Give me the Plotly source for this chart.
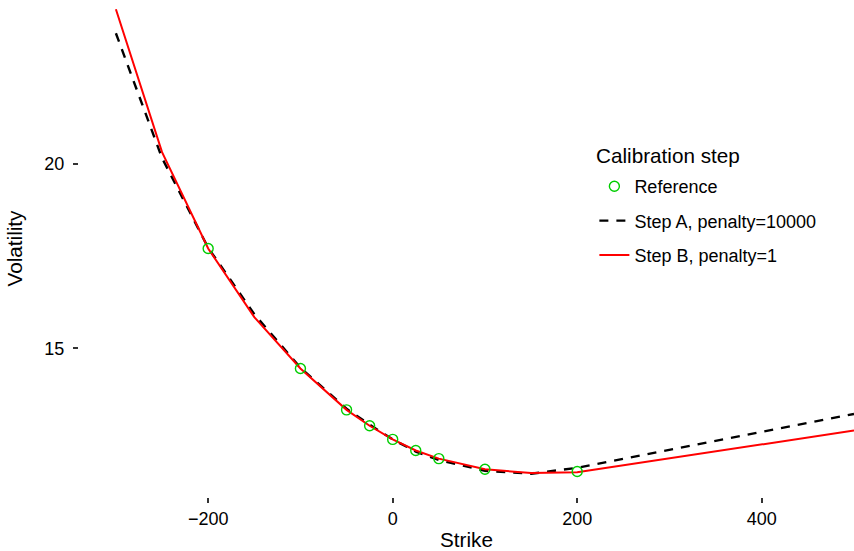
import plotly.graph_objects as go

# Reference points
ref_strike = [-200, -100, -50, -25, 0, 25, 50, 100, 200]
ref_vol = [17.70, 14.45, 13.33, 12.90, 12.53, 12.23, 12.01, 11.72, 11.66]

# Calibrated curves
curve_strike = [-300, -250, -200, -150, -100, -50, -25, 0, 25, 50, 100, 150, 200, 300, 400, 500]
step_a_vol = [23.53, 20.15, 17.72, 15.92, 14.47, 13.36, 12.93, 12.53, 12.20, 11.97, 11.68, 11.60, 11.76, 12.25, 12.73, 13.22]
step_b_vol = [24.18, 20.31, 17.70, 15.84, 14.45, 13.33, 12.90, 12.53, 12.23, 12.01, 11.72, 11.62, 11.64, 12.02, 12.40, 12.77]

legend_title = "Calibration step"

FONT = "Liberation Sans, Helvetica, Arial, sans-serif"

fig = go.Figure()
fig.add_trace(go.Scatter(
    x=curve_strike, y=step_a_vol, mode="lines", name="Step A, penalty=10000",
    line=dict(color="black", width=2.4, dash="9px,8px"), legendgroup="a", legendrank=2,
))
fig.add_trace(go.Scatter(
    x=curve_strike, y=step_b_vol, mode="lines", name="Step B, penalty=1",
    line=dict(color="#FF0000", width=2), legendgroup="b", legendrank=3,
))
fig.add_trace(go.Scatter(
    x=ref_strike, y=ref_vol, mode="markers", name="Reference",
    marker=dict(symbol="circle-open", size=10, color="#00CD00", line=dict(width=1.4, color="#00CD00")),
    legendgroup="r", legendrank=1,
))

fig.add_annotation(
    text=legend_title, xref="paper", yref="paper",
    x=(594 - 79) / 775, y=(497 - 155) / 497, xanchor="left", yanchor="middle",
    showarrow=False, font=dict(size=20.7, color="black"),
)

fig.update_layout(
    width=854, height=551,
    margin=dict(l=79, r=0, t=0, b=54),
    paper_bgcolor="white", plot_bgcolor="white",
    font=dict(family=FONT, size=18, color="black"),
    showlegend=True,
    legend=dict(
        x=0.665, y=0.662, xanchor="left", yanchor="top",
        font=dict(size=18, color="black"),
        bgcolor="rgba(0,0,0,0)",
        traceorder="grouped", tracegroupgap=8,
        itemwidth=30,
    ),
    xaxis=dict(
        range=[-340, 500], tickvals=[-200, 0, 200, 400],
        showgrid=False, zeroline=False, showline=False,
        ticks="outside", ticklen=5, tickwidth=1.5, tickcolor="#333333",
        tickfont=dict(size=18, color="black"),
        title=dict(text="Strike", font=dict(size=20.7, color="black"), standoff=6),
    ),
    yaxis=dict(
        range=[10.97, 24.43], tickvals=[15, 20],
        showgrid=False, zeroline=False, showline=False,
        ticks="outside", ticklen=5, tickwidth=1.5, tickcolor="#333333",
        tickfont=dict(size=18, color="black"),
        ticklabelstandoff=5,
        title=dict(text="Volatility", font=dict(size=20.7, color="black"), standoff=16),
    ),
)

fig.write_html(
    "out.html",
    config={"displayModeBar": False},
    post_script="document.body.style.margin='0';document.body.style.overflow='hidden';",
)
